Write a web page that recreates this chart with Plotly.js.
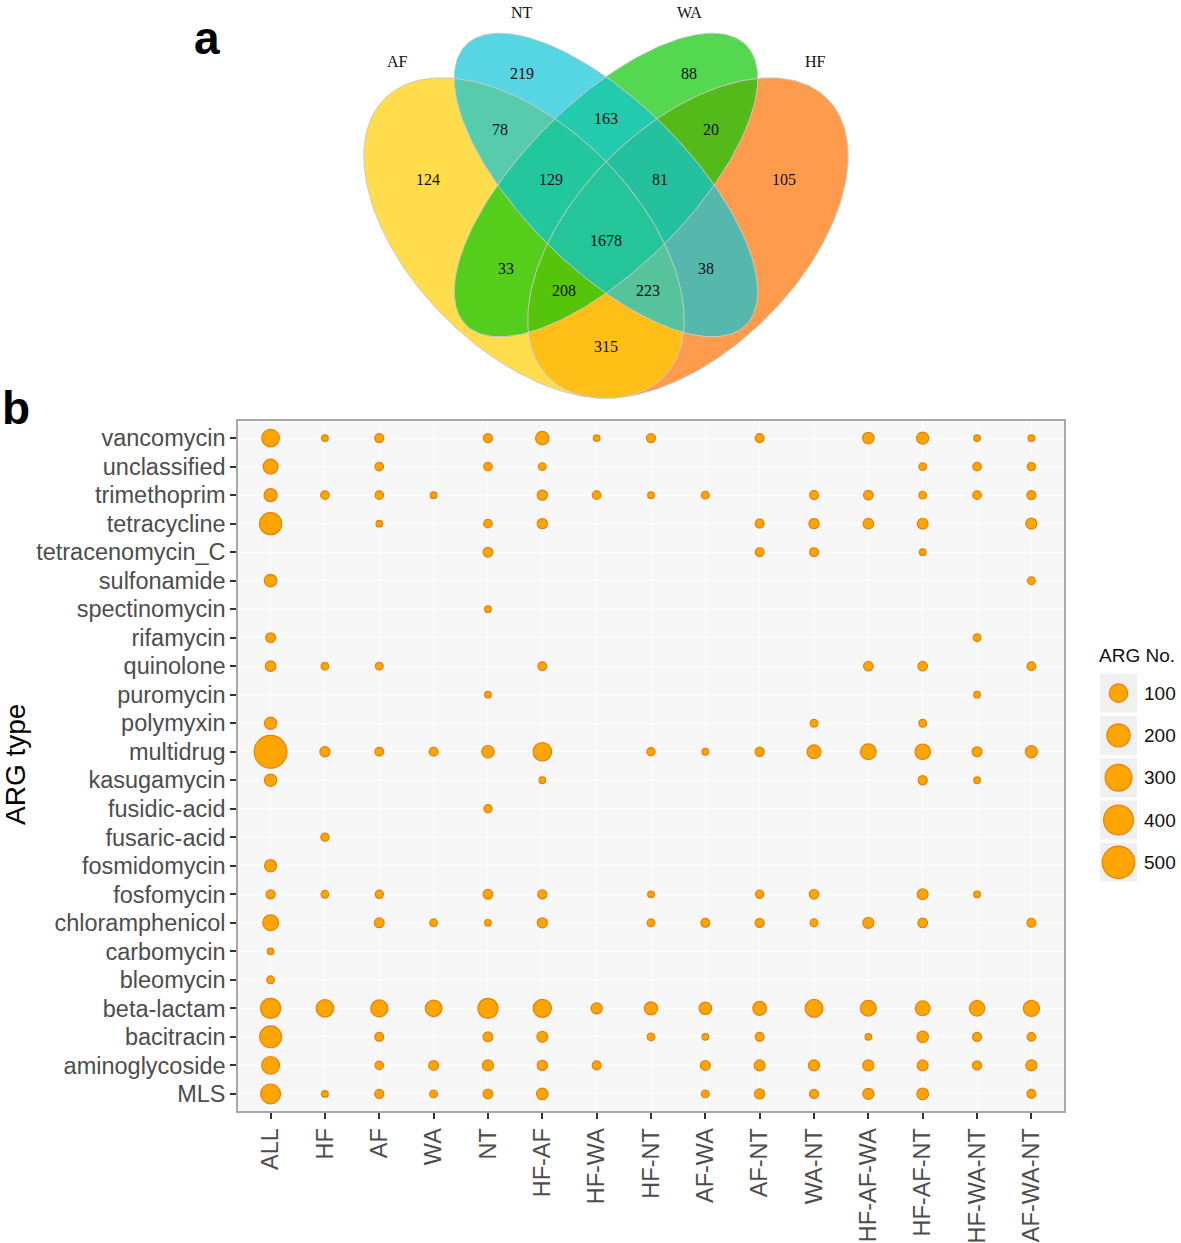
<!DOCTYPE html>
<html><head><meta charset="utf-8">
<script src="https://cdn.plot.ly/plotly-3.0.1.min.js"></script>
<style>html,body{margin:0;padding:0;background:#fff}</style>
</head><body><div id="chart" style="width:1181px;height:1243px"></div>
<script>
// ---------------- data ----------------
const groups = ['ALL','HF','AF','WA','NT','HF-AF','HF-WA','HF-NT','AF-WA','AF-NT','WA-NT','HF-AF-WA','HF-AF-NT','HF-WA-NT','AF-WA-NT'];
const argTypes = ['vancomycin','unclassified','trimethoprim','tetracycline','tetracenomycin_C','sulfonamide',
  'spectinomycin','rifamycin','quinolone','puromycin','polymyxin','multidrug','kasugamycin','fusidic-acid',
  'fusaric-acid','fosmidomycin','fosfomycin','chloramphenicol','carbomycin','bleomycin','beta-lactam',
  'bacitracin','aminoglycoside','MLS'];
const N = null;
// rows follow argTypes, columns follow groups
const argCounts = [
  [94, 1, 6, N, 6, 38, 1, 6, N, 5, N, 20, 25, 1, 1],      // vancomycin
  [54, N, 4, N, 4, 2, N, N, N, N, N, N, 2, 4, 3],          // unclassified
  [34, 4, 4, 1, N, 11, 4, 1, 2, N, 5, 8, 2, 4, 6],         // trimethoprim
  [189, N, 1, N, 4, 11, N, N, N, 5, 11, 13, 15, N, 17],    // tetracycline
  [N, N, N, N, 9, N, N, N, N, 5, 5, N, 1, N, N],           // tetracenomycin_C
  [28, N, N, N, N, N, N, N, N, N, N, N, N, N, 2],          // sulfonamide
  [N, N, N, N, 1, N, N, N, N, N, N, N, N, N, N],           // spectinomycin
  [9, N, N, N, N, N, N, N, N, N, N, N, N, 2, N],           // rifamycin
  [13, 2, 2, N, N, 5, N, N, N, N, N, 8, 8, N, 5],          // quinolone
  [N, N, N, N, 1, N, N, N, N, N, N, N, N, 1, N],           // puromycin
  [25, N, N, N, N, N, N, N, N, N, 2, N, 2, N, N],          // polymyxin
  [538, 11, 5, 5, 28, 112, N, 3, 1, 6, 42, 67, 63, 9, 25], // multidrug
  [25, N, N, N, N, 1, N, N, N, N, N, N, 6, 1, N],          // kasugamycin
  [N, N, N, N, 3, N, N, N, N, N, N, N, N, N, N],           // fusidic-acid
  [N, 3, N, N, N, N, N, N, N, N, N, N, N, N, N],           // fusaric-acid
  [25, N, N, N, N, N, N, N, N, N, N, N, N, N, N],          // fosmidomycin
  [6, 2, 3, N, 9, 6, N, 1, N, 3, 8, N, 15, 1, N],          // fosfomycin
  [67, N, 9, 2, 1, 11, N, 2, 5, 6, 2, 17, 8, N, 5],        // chloramphenicol
  [1, N, N, N, N, N, N, N, N, N, N, N, N, N, N],           // carbomycin
  [2, N, N, N, N, N, N, N, N, N, N, N, N, N, N],           // bleomycin
  [144, 94, 87, 78, 144, 105, 17, 34, 28, 42, 99, 67, 54, 63, 72], // beta-lactam
  [182, N, 5, N, 9, 15, N, 2, 1, 5, N, 1, 20, 6, 4],       // bacitracin
  [99, N, 4, 9, 17, 11, 5, N, 9, 15, 17, 17, 15, 6, 17],   // aminoglycoside
  [137, 1, 6, 2, 9, 20, N, N, 2, 11, 6, 17, 22, N, 5]      // MLS
];
const legendBreaks = [100, 200, 300, 400, 500];

const vennSets = ['AF', 'NT', 'WA', 'HF'];
const vennRegionNames = ['AF','NT','WA','HF','AF-NT','NT-WA','WA-HF','AF-NT-WA','NT-WA-HF','AF-NT-WA-HF',
  'AF-WA','NT-HF','AF-WA-HF','AF-NT-HF','AF-HF'];
const vennRegionCounts = [124, 219, 88, 105, 78, 163, 20, 129, 81, 1678, 33, 38, 208, 223, 315];

// ---------------- layout helpers (positions / styles) ----------------
const W = 1181, H = 1243;
const setLabelPos = {AF:[397,61], NT:[522,12], WA:[689,12], HF:[815,61]};
const regionPos = [[428,179],[522,73],[689,73],[784,179],[500,129],[606,118],[711,129],[551,179],[660,179],
  [606,240],[506,268],[706,268],[564,290],[648,290],[606,346]];
// ellipse geometry in pixel space (y down); dir = +1 major axis down-right, -1 up-right
const ellipses = [ // drawing order
  {set:'HF', cx:688, cy:238, a:197, b:112, dir:-1, fill:'rgba(255,112,0,0.7)'},
  {set:'AF', cx:524, cy:238, a:197, b:112, dir: 1, fill:'rgba(255,206,0,0.7)'},
  {set:'WA', cx:606, cy:185, a:198, b:83,  dir:-1, fill:'rgba(12,200,5,0.7)'},
  {set:'NT', cx:606, cy:185, a:198, b:83,  dir: 1, fill:'rgba(14,196,214,0.7)'}
];
function ellipsePts(e){
  const r = Math.SQRT1_2, xs=[], ys=[];
  const e1 = [r, e.dir*r], e2 = [-e.dir*r, r];
  for (let i=0;i<=240;i++){
    const t = 2*Math.PI*i/240, c = e.a*Math.cos(t), s = e.b*Math.sin(t);
    xs.push(e.cx + c*e1[0] + s*e2[0]); ys.push(e.cy + c*e1[1] + s*e2[1]);
  }
  return {xs, ys};
}
function diam(v){ return 7.8 + 1.13*Math.sqrt(Math.max(v-1, 0)); }
const LW = 1.2;

const traces = [];
ellipses.forEach(e=>{
  const p = ellipsePts(e);
  traces.push({type:'scatter', mode:'lines', x:p.xs, y:p.ys, xaxis:'x2', yaxis:'y2', fill:'toself',
    fillcolor:e.fill, line:{width:0}, hoverinfo:'skip', showlegend:false});
});
ellipses.forEach(e=>{
  const p = ellipsePts(e);
  traces.push({type:'scatter', mode:'lines', x:p.xs, y:p.ys, xaxis:'x2', yaxis:'y2',
    line:{width:1, color:'#c9c9c9'}, hoverinfo:'skip', showlegend:false});
});

// bubbles
const bx=[], by=[], bs=[], bt=[];
argTypes.forEach((t,i)=>{
  groups.forEach((g,j)=>{
    const v = argCounts[i][j];
    if (v !== null && v !== undefined){ bx.push(g); by.push(t); bs.push(diam(v)-LW); bt.push(v); }
  });
});
const markerStyle = {color:'#FFA500', opacity:1, line:{color:'rgb(232,128,10)', width:LW}};
traces.push({type:'scatter', mode:'markers', x:bx, y:by, text:bt, xaxis:'x', yaxis:'y',
  marker:Object.assign({size:bs, sizemode:'diameter'}, markerStyle),
  hovertemplate:'%{y} / %{x}: %{text}<extra></extra>', showlegend:false});

// size legend
traces.push({type:'scatter', mode:'markers', x:legendBreaks.map(()=>0.5), y:legendBreaks.map(String),
  xaxis:'x3', yaxis:'y3',
  marker:Object.assign({size:legendBreaks.map(v=>diam(v)-LW+0.6), sizemode:'diameter'}, markerStyle),
  hoverinfo:'skip', showlegend:false});

const fontSans = 'Liberation Sans, Arial, sans-serif';
const fontSerif = 'Liberation Serif, Times New Roman, serif';

const annotations = [];
vennSets.forEach(s=>{
  annotations.push({xref:'x2', yref:'y2', x:setLabelPos[s][0], y:setLabelPos[s][1], text:s, showarrow:false,
    font:{family:fontSerif, size:16, color:'#111'}});
});
vennRegionCounts.forEach((c,i)=>{
  annotations.push({xref:'x2', yref:'y2', x:regionPos[i][0], y:regionPos[i][1], text:String(c), showarrow:false,
    font:{family:fontSerif, size:16, color:'#111'}});
});
legendBreaks.forEach((v,i)=>{
  annotations.push({xref:'x3', yref:'y3', x:1, y:i, text:String(v), showarrow:false, xanchor:'left', xshift:5,
    font:{family:fontSans, size:19, color:'#111'}});
});
annotations.push({xref:'paper', yref:'paper', x:1097/W, y:1-655/H, xanchor:'left', yanchor:'middle',
  text:'ARG No.', showarrow:false, font:{family:fontSans, size:19, color:'#111'}});
annotations.push({xref:'paper', yref:'paper', x:15/W, y:1-765/H, textangle:-90, xanchor:'center', yanchor:'middle',
  text:'ARG type', showarrow:false, font:{family:fontSans, size:28, color:'#000'}});
annotations.push({xref:'paper', yref:'paper', x:207/W, y:1-38/H, xanchor:'center', yanchor:'middle',
  text:'<b>a</b>', showarrow:false, font:{family:fontSans, size:46, color:'#000'}});
annotations.push({xref:'paper', yref:'paper', x:16/W, y:1-408/H, xanchor:'center', yanchor:'middle',
  text:'<b>b</b>', showarrow:false, font:{family:fontSans, size:46, color:'#000'}});

const shapes = [
  {type:'rect', xref:'x domain', yref:'y domain', x0:0, x1:1, y0:0, y1:1, fillcolor:'#F7F7F7',
    line:{width:0}, layer:'below'}
];
legendBreaks.forEach((v,i)=>{
  shapes.push({type:'rect', xref:'x3', yref:'y3', x0:0, x1:1, y0:i-0.46, y1:i+0.46, fillcolor:'#F0F0F0',
    line:{width:0}, layer:'below'});
});

const px2x = p => p/W, px2y = p => 1 - p/H;
const tickFont = {family:fontSans, size:23.5, color:'#4d4d4d'};
const layout = {
  width:W, height:H, margin:{l:0,r:0,t:0,b:0}, paper_bgcolor:'#fff', plot_bgcolor:'rgba(0,0,0,0)',
  showlegend:false,
  xaxis:{domain:[px2x(238), px2x(1064)], type:'category', categoryorder:'array', categoryarray:groups,
    range:[-0.6, groups.length-0.4], showgrid:true, gridcolor:'#ffffff', gridwidth:1.3, zeroline:false,
    showline:true, mirror:true, linecolor:'#a8a8a8', linewidth:1.5,
    ticks:'outside', ticklen:6, tickwidth:2, tickcolor:'#333', tickangle:-90,
    tickfont:tickFont, fixedrange:true},
  yaxis:{domain:[px2y(1111), px2y(421)], type:'category', categoryorder:'array', categoryarray:argTypes,
    range:[argTypes.length-0.4, -0.6], showgrid:true, gridcolor:'#ffffff', gridwidth:1.3, zeroline:false,
    showline:true, mirror:true, linecolor:'#a8a8a8', linewidth:1.5,
    ticks:'outside', ticklen:6, tickwidth:2, tickcolor:'#333',
    tickfont:tickFont, fixedrange:true},
  xaxis2:{domain:[0,1], range:[0,W], visible:false, fixedrange:true},
  yaxis2:{domain:[0,1], range:[H,0], visible:false, fixedrange:true},
  xaxis3:{domain:[px2x(1100), px2x(1137)], range:[0,1], visible:false, fixedrange:true},
  yaxis3:{domain:[px2y(883.5), px2y(672)], type:'category', categoryorder:'array',
    categoryarray:legendBreaks.map(String), range:[legendBreaks.length-0.5, -0.5], visible:false, fixedrange:true},
  annotations, shapes
};
Plotly.newPlot('chart', traces, layout, {displayModeBar:false, responsive:false});
</script></body></html>
